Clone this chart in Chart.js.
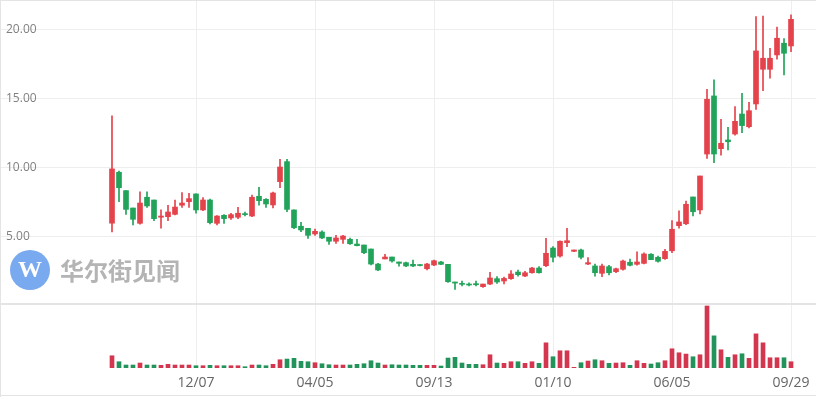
<!DOCTYPE html>
<html>
<head>
<meta charset="utf-8">
<script src="https://cdn.jsdelivr.net/npm/chart.js@4.4.1/dist/chart.umd.min.js"></script>
<style>
  html, body { margin: 0; padding: 0; background: #ffffff; overflow: hidden; }
  #wrap { position: relative; width: 816px; height: 397px; }
  canvas { position: absolute; left: 0; display: block; }
  #price { top: 0; }
  #vol { top: 304px; }
</style>
</head>
<body>
<div id="wrap">
  <canvas id="price" width="816" height="304"></canvas>
  <canvas id="vol" width="816" height="93"></canvas>
</div>
<script>
// ---- data (weekly candles) ----
const open  = [6.00,9.69,8.36,7.10,5.99,7.88,7.68,6.43,6.47,6.64,7.30,7.56,8.12,6.96,7.68,5.99,6.57,6.38,6.43,6.67,
               6.52,7.95,7.73,7.32,9.01,10.46,6.96,5.78,5.63,5.22,5.36,4.98,4.69,4.83,4.83,4.49,4.42,4.13,3.04,3.41,
               3.55,3.19,3.14,3.02,2.99,2.70,2.97,3.19,3.02,1.74,1.64,1.57,1.62,1.40,1.59,1.98,1.81,1.98,2.46,2.17,
               2.41,2.75,2.92,4.20,3.62,4.59,3.96,4.06,3.04,2.90,2.37,2.85,2.49,2.66,3.17,3.02,3.09,3.75,3.53,3.43,
               4.00,5.82,5.96,7.90,6.96,11.01,15.22,11.40,12.03,12.46,13.91,12.99,14.64,17.15,17.15,18.19,19.04,18.84];
const high  = [13.77,9.78,8.36,7.10,8.28,8.28,7.68,6.96,7.30,7.68,8.21,8.17,8.12,7.85,7.75,6.55,6.62,6.72,7.15,6.80,
               8.04,8.60,7.78,8.26,10.63,10.63,6.96,6.07,5.63,5.58,5.45,4.98,5.12,5.12,4.93,4.83,4.42,4.13,3.09,3.75,
               3.55,3.19,3.19,3.33,3.00,3.09,3.33,3.24,3.02,1.74,1.81,1.67,1.81,1.59,2.44,2.13,2.10,2.56,2.60,2.51,
               2.80,2.85,4.90,4.30,4.73,5.63,4.06,4.13,3.50,3.04,3.04,2.95,2.75,3.33,3.40,3.93,3.86,3.80,3.62,4.10,
               6.18,6.90,7.60,7.90,9.42,15.70,16.38,13.53,12.95,14.45,15.41,14.75,20.96,21.00,18.67,20.20,19.37,21.09];
const low   = [5.36,7.56,6.64,5.87,5.92,7.15,6.18,5.63,6.18,6.59,7.15,7.15,6.72,6.91,5.95,5.87,5.99,6.28,6.33,6.52,
               6.47,7.30,7.15,7.10,8.57,6.83,5.60,5.38,4.90,5.12,4.88,4.47,4.54,4.54,4.47,4.35,3.80,2.97,2.56,3.41,
               3.17,2.88,2.85,2.85,2.90,2.61,2.92,3.00,1.70,1.21,1.46,1.45,1.45,1.35,1.54,1.64,1.60,1.93,2.17,2.12,
               2.37,2.37,2.85,3.19,3.53,4.30,3.93,3.42,2.99,2.17,2.12,2.26,2.42,2.60,2.90,2.95,3.04,3.36,3.17,3.38,
               3.86,5.63,5.90,6.52,6.67,10.70,10.38,10.92,11.30,12.38,12.56,12.90,14.25,15.60,16.50,17.88,16.74,18.43];
const close = [9.93,8.57,7.00,6.28,7.46,7.25,6.33,6.52,6.81,7.17,7.46,7.78,6.96,7.68,6.04,6.52,6.33,6.62,6.72,6.62,
               7.88,7.63,7.39,8.19,10.07,7.00,5.67,5.51,5.12,5.41,4.93,4.69,4.93,5.07,4.51,4.37,3.86,3.04,2.61,3.55,
               3.26,3.09,2.90,2.90,2.93,3.04,3.28,3.02,1.76,1.66,1.57,1.52,1.54,1.59,2.03,1.74,2.00,2.32,2.27,2.41,
               2.75,2.41,3.82,3.53,4.69,4.73,4.06,3.53,3.14,2.41,2.90,2.41,2.70,3.26,2.95,3.19,3.77,3.36,3.24,3.96,
               5.56,6.09,7.37,6.83,9.42,14.98,11.01,11.79,11.90,13.38,13.07,14.15,18.48,17.95,17.95,19.40,18.31,20.77];
// volume (relative units)
const volume = [12.3,6.3,3.0,3.0,5.0,3.0,3.0,2.7,3.7,3.0,3.0,3.0,2.3,2.3,2.7,2.3,2.3,2.3,2.3,1.3,
                3.0,3.0,2.3,3.7,8.3,9.0,9.7,6.7,6.3,5.3,4.3,3.3,3.0,3.0,3.0,3.7,4.3,7.3,5.0,3.0,
                3.3,3.0,3.0,2.7,2.7,2.7,2.7,2.0,10.0,10.7,5.0,3.7,3.7,3.3,13.3,5.0,4.7,6.3,6.3,4.7,
                6.3,4.7,25.3,11.3,17.3,17.3,0.7,5.3,7.0,8.3,7.3,4.7,5.0,5.3,2.7,7.3,4.7,4.0,5.3,7.3,
                19.3,15.3,14.0,11.3,13.3,62.3,32.3,18.3,10.7,13.3,14.3,9.7,34.3,25.3,10.3,10.3,10.3,6.3];
const tickIndex  = [12, 29, 46, 63, 80, 97];
const tickLabels = ['12/07', '04/05', '09/13', '01/10', '06/05', '09/29'];
const priceTicks = [5, 10, 15, 20];

// ---- styling ----
const UP = '#e5434c', DOWN = '#21a35a';
const UP_VOL = '#d4364f', DOWN_VOL = '#22935a';
const GRID = '#eeeeee';
const FRAME = '#e4e4e4';

const idx = open.map((_, i) => i);
const isUp = idx.map(i => close[i] >= open[i]);
const candleColors = isUp.map(u => u ? UP : DOWN);
const volColors = isUp.map(u => u ? UP_VOL : DOWN_VOL);

const X_MIN = -16, X_MAX = 100.57;

function zeroPad(a) { a.paddingLeft = 0; a.paddingRight = 0; a.paddingTop = 0; a.paddingBottom = 0; }

function xScale(showLabels) {
  return {
    type: 'linear', min: X_MIN, max: X_MAX, offset: false,
    afterBuildTicks: a => { a.ticks = tickIndex.map(v => ({ value: v })); },
    grid: { color: GRID, drawTicks: false, lineWidth: 1, offset: false },
    border: { display: false },
    ticks: {
      display: showLabels, autoSkip: false, maxRotation: 0, padding: 7,
      color: '#666666', font: { family: 'Open Sans', size: 14 },
      callback: v => { const k = tickIndex.indexOf(v); return k >= 0 ? tickLabels[k] : ''; }
    },
    afterFit: a => { a.height = showLabels ? 29 : 0; zeroPad(a); }
  };
}

const watermark = {
  id: 'watermark',
  beforeDatasetsDraw(chart) {
    const c = chart.ctx;
    c.save();
    c.fillStyle = '#79a9ef';
    c.beginPath(); c.arc(30, 270, 20, 0, Math.PI * 2); c.fill();
    c.fillStyle = '#ffffff';
    c.font = 'bold 24px "Liberation Serif", serif';
    c.textAlign = 'center'; c.textBaseline = 'middle';
    c.fillText('W', 30, 271);
    c.fillStyle = '#b4b4b4';
    c.font = 'bold 24px "Noto Sans CJK SC"';
    c.textAlign = 'left';
    c.fillText('华尔街见闻', 60, 271);
    c.restore();
  }
};

const frame1 = {
  id: 'frame1',
  afterDraw(chart) {
    const c = chart.ctx;
    c.save();
    c.strokeStyle = FRAME; c.lineWidth = 1;
    c.beginPath();
    c.moveTo(0, 0.5); c.lineTo(816, 0.5);
    c.moveTo(0.5, 0); c.lineTo(0.5, 304);
    c.moveTo(0, 303.5); c.lineTo(816, 303.5);
    c.stroke();
    c.restore();
  }
};
const frame2 = {
  id: 'frame2',
  afterDraw(chart) {
    const c = chart.ctx;
    c.save();
    c.strokeStyle = FRAME; c.lineWidth = 1;
    c.beginPath();
    c.moveTo(0, 0.5); c.lineTo(816, 0.5);
    c.moveTo(0.5, 0); c.lineTo(0.5, 93);
    c.moveTo(0, 91.5); c.lineTo(816, 91.5);
    c.stroke();
    c.restore();
  }
};

new Chart(document.getElementById('price'), {
  type: 'bar',
  data: {
    datasets: [
      { label: 'wick', data: idx.map(i => ({ x: i, y: [low[i], high[i]] })),
        backgroundColor: candleColors, barThickness: 1, grouped: false, order: 2 },
      { label: 'body', data: idx.map(i => ({ x: i, y: [open[i], close[i]] })),
        backgroundColor: candleColors, barThickness: 5, grouped: false, minBarLength: 1, order: 1 }
    ]
  },
  options: {
    responsive: false, animation: false, devicePixelRatio: 1,
    layout: { padding: 0 },
    plugins: { legend: { display: false }, tooltip: { enabled: false } },
    scales: {
      x: xScale(false),
      y: {
        min: 0.145, max: 22.17,
        afterBuildTicks: a => { a.ticks = priceTicks.map(v => ({ value: v })); },
        grid: { color: GRID, drawTicks: false },
        border: { display: false },
        ticks: { mirror: true, padding: 6, color: '#808080',
                 font: { family: 'Open Sans', size: 12 },
                 callback: v => Number(v).toFixed(2) },
        afterFit: a => { a.width = 0; zeroPad(a); }
      }
    }
  },
  plugins: [watermark, frame1]
});

new Chart(document.getElementById('vol'), {
  type: 'bar',
  data: {
    datasets: [
      { label: 'volume', data: idx.map(i => ({ x: i, y: volume[i] })),
        backgroundColor: volColors, barThickness: 4, grouped: false }
    ]
  },
  options: {
    responsive: false, animation: false, devicePixelRatio: 1,
    layout: { padding: 0 },
    plugins: { legend: { display: false }, tooltip: { enabled: false } },
    scales: {
      x: xScale(true),
      y: { display: false, min: 0, max: 64.3 }
    }
  },
  plugins: [frame2]
});
</script>
</body>
</html>
